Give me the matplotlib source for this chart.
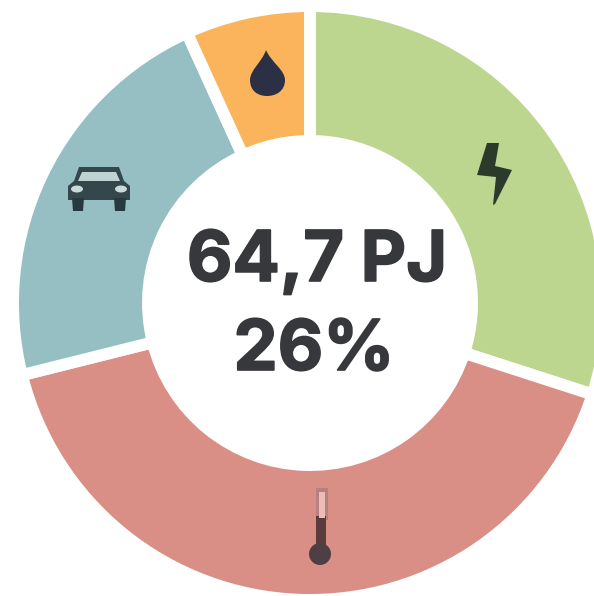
import matplotlib
matplotlib.use("Agg")
import matplotlib.pyplot as plt
import matplotlib.patheffects as pe
from matplotlib.patches import Polygon, Circle, Ellipse, PathPatch
from matplotlib.path import Path

# share of each sector, PJ
sectors = ["electricity", "heat", "transport", "oil"]
values = [19.4, 26.6, 14.3, 4.4]
colors = ["#BCD68F", "#D98F86", "#95BFC2", "#FBB45C"]
total_label = "64,7 PJ"
pct_label = "26%"

H = 596
dark = "#37383C"


def fy(y):
    # picture y (down) to axes y (up)
    return H - y


def poly(pts, color=dark, z=5):
    ax.add_patch(Polygon([(x, fy(y)) for x, y in pts], closed=True, fc=color, ec="none", zorder=z))


fig = plt.figure(figsize=(5.94, 5.96), dpi=100)
ax = fig.add_axes([0, 0, 1, 1])

ax.pie(values, colors=colors, startangle=90, counterclock=False,
       center=(310, fy(303)), radius=297,
       wedgeprops=dict(width=135, edgecolor="white", linewidth=8.6))
ax.set_aspect("equal")
ax.set_xlim(0, 594)
ax.set_ylim(0, H)
ax.axis("off")

# centre text, stroked a little because the original face is heavier
thick = [pe.withStroke(linewidth=1.2, foreground=dark)]
ax.text(317, fy(281), total_label, ha="center", va="baseline", fontsize=50.5,
        fontweight="bold", family="Inter", color=dark, path_effects=thick)
ax.text(314, fy(370), pct_label, ha="center", va="baseline", fontsize=50.5,
        fontweight="bold", family="Inter", color=dark, path_effects=thick)

# drop icon
drop = Path([(266, fy(50)), (262, fy(62)), (250, fy(70)), (250, fy(80)),
             (250, fy(91)), (258, fy(96)), (267, fy(96)),
             (276, fy(96)), (285, fy(91)), (285, fy(80)),
             (285, fy(70)), (271, fy(62)), (266, fy(50))],
            [Path.MOVETO, Path.CURVE4, Path.CURVE4, Path.CURVE4,
             Path.CURVE4, Path.CURVE4, Path.CURVE4,
             Path.CURVE4, Path.CURVE4, Path.CURVE4,
             Path.CURVE4, Path.CURVE4, Path.CURVE4])
ax.add_patch(PathPatch(drop, fc="#2C3045", ec="none", zorder=5))

# lightning icon
poly([(487, 143), (499, 143), (495, 166), (512, 170), (495, 204), (493, 205),
      (496, 177), (477, 175)], color="#2B3A2B")

# car icon
poly([(79, 167), (119, 167), (124, 181), (130, 186), (130, 200), (68, 200), (68, 186), (74, 181)],
     color="#33474D")
poly([(82, 172), (116, 172), (120, 181), (78, 181)], color="#BFD3D3", z=6)
ax.add_patch(Ellipse((77, fy(189)), 12, 7, fc="#C9DADA", ec="none", zorder=6))
ax.add_patch(Ellipse((121, fy(189)), 12, 7, fc="#C9DADA", ec="none", zorder=6))
poly([(72, 198), (84, 198), (83, 211), (73, 211)], color="#26393F")
poly([(114, 198), (126, 198), (125, 211), (115, 211)], color="#26393F")

# thermometer icon
poly([(316, 488), (328, 488), (328, 520), (316, 520)], color="#B98080")
poly([(319, 492), (325, 492), (325, 518), (319, 518)], color="#EDBDB5", z=6)
poly([(316, 516), (326, 516), (326, 552), (316, 552)], color="#5C3B3C")
ax.add_patch(Circle((320, fy(554)), 11, fc="#4E3F44", ec="none", zorder=5))

fig.savefig("out.png", dpi=100, facecolor="white")
